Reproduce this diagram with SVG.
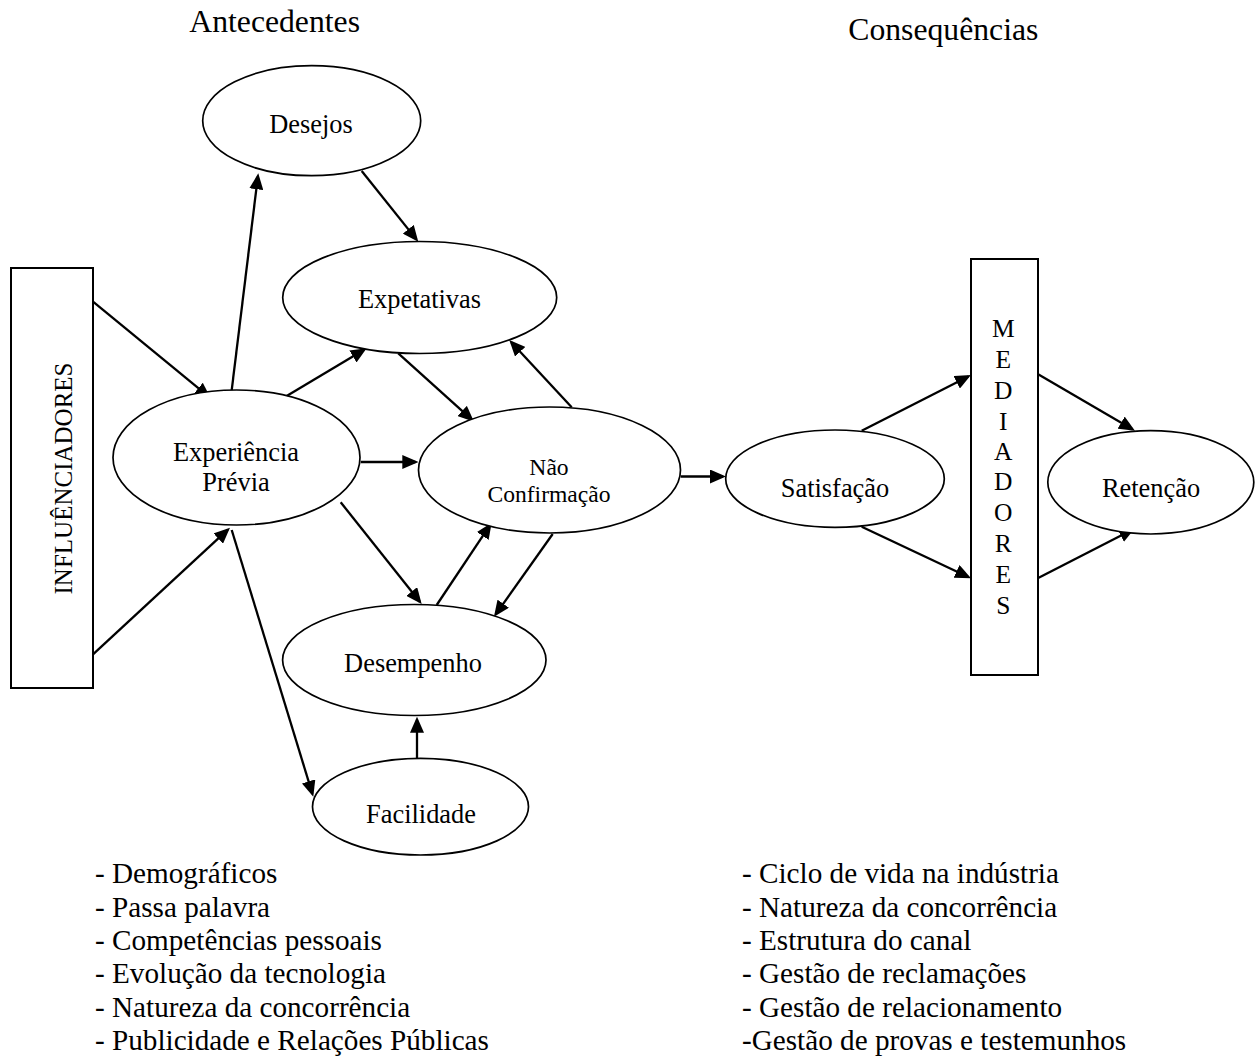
<svg xmlns="http://www.w3.org/2000/svg" width="1255" height="1058" viewBox="0 0 1255 1058">
  <style>
    .node { fill: #ffffff; stroke: #000000; stroke-width: 1.7; }
    .box { fill: #ffffff; stroke: #000000; stroke-width: 2; }
    .edge { stroke: #000000; stroke-width: 2.3; fill: none; marker-end: url(#arrow); }
    text { font-family: "Liberation Serif", "Times New Roman", serif; fill: #000000; }
    .lbl { font-size: 26.4px; text-anchor: middle; }
    .lbl-sm { font-size: 23.6px; text-anchor: middle; }
    .title { font-size: 31.7px; }
    .list { font-size: 29.2px; }
    .vert { font-size: 25.5px; text-anchor: middle; }
  </style>
  <defs>
    <marker id="arrow" markerUnits="userSpaceOnUse" markerWidth="16" markerHeight="14" refX="13" refY="7" orient="auto">
      <path d="M0,0 L16,7 L0,14 Z" fill="#000000"/>
    </marker>
  </defs>

  <rect width="1255" height="1058" fill="#ffffff"/>

  <!-- section headings -->
  <text class="title" x="189.3" y="32.3">Antecedentes</text>
  <text class="title" x="848.3" y="40">Consequências</text>

  <!-- connectors -->
  <g id="connectors">
    <line class="edge" x1="93" y1="301.7" x2="208.4" y2="396.4"/>
    <line class="edge" x1="93" y1="654.3" x2="227.8" y2="529.7"/>
    <line class="edge" x1="230.7" y1="398.3" x2="257.9" y2="176.3"/>
    <line class="edge" x1="361.7" y1="171" x2="416.4" y2="239.4"/>
    <line class="edge" x1="283.3" y1="398" x2="364.1" y2="349.8"/>
    <line class="edge" x1="398.3" y1="353.3" x2="471.8" y2="419.7"/>
    <line class="edge" x1="571.7" y1="407.3" x2="511.3" y2="342.2"/>
    <line class="edge" x1="360.7" y1="462" x2="415.3" y2="462"/>
    <line class="edge" x1="340.7" y1="502.3" x2="419.8" y2="601.7"/>
    <line class="edge" x1="436.7" y1="605" x2="490" y2="525.2"/>
    <line class="edge" x1="552.7" y1="534" x2="495.7" y2="614.3"/>
    <line class="edge" x1="417" y1="758.3" x2="417" y2="719.7"/>
    <line class="edge" x1="231.7" y1="530" x2="312.4" y2="793.8"/>
    <line class="edge" x1="680.7" y1="476.5" x2="723" y2="476.5"/>
    <line class="edge" x1="861.7" y1="430.7" x2="968.3" y2="376.4"/>
    <line class="edge" x1="861.7" y1="526.7" x2="968.3" y2="577"/>
    <line class="edge" x1="1037.7" y1="374" x2="1132.4" y2="429.2"/>
    <line class="edge" x1="1037.7" y1="578.3" x2="1132.3" y2="529.7"/>
  </g>

  <!-- nodes -->
  <g id="influenciadores">
    <rect class="box" x="11" y="268" width="82" height="420"/>
    <text class="vert" transform="translate(72 478.5) rotate(-90)" x="0" y="0" style="font-size:25px">INFLUÊNCIADORES</text>
  </g>

  <g id="desejos">
    <ellipse class="node" cx="311.7" cy="120.7" rx="109" ry="55"/>
    <text class="lbl" x="311" y="133.3">Desejos</text>
  </g>

  <g id="expetativas">
    <ellipse class="node" cx="419.7" cy="297.5" rx="137" ry="56"/>
    <text class="lbl" x="419.5" y="308">Expetativas</text>
  </g>

  <g id="experiencia-previa">
    <ellipse class="node" cx="236.5" cy="457.5" rx="123.5" ry="67.5"/>
    <text class="lbl" x="236" y="461">Experiência</text>
    <text class="lbl" x="236" y="490.7">Prévia</text>
  </g>

  <g id="nao-confirmacao">
    <ellipse class="node" cx="549.5" cy="470" rx="131" ry="63"/>
    <text class="lbl-sm" x="549" y="475">Não</text>
    <text class="lbl-sm" x="549" y="502">Confirmação</text>
  </g>

  <g id="desempenho">
    <ellipse class="node" cx="414.3" cy="660" rx="131.7" ry="55.5"/>
    <text class="lbl" x="413" y="671.7">Desempenho</text>
  </g>

  <g id="facilidade">
    <ellipse class="node" cx="420.5" cy="806.7" rx="108" ry="48.3"/>
    <text class="lbl" x="421" y="823.3">Facilidade</text>
  </g>

  <g id="satisfacao">
    <ellipse class="node" cx="835" cy="478.7" rx="109.3" ry="48.7"/>
    <text class="lbl" x="835" y="496.7">Satisfação</text>
  </g>

  <g id="mediadores">
    <rect class="box" x="971" y="259" width="67" height="416"/>
    <text class="vert" x="1003.3" y="337">M</text>
    <text class="vert" x="1003.3" y="368">E</text>
    <text class="vert" x="1003.3" y="399">D</text>
    <text class="vert" x="1003.3" y="430">I</text>
    <text class="vert" x="1003.3" y="460">A</text>
    <text class="vert" x="1003.3" y="490">D</text>
    <text class="vert" x="1003.3" y="521">O</text>
    <text class="vert" x="1003.3" y="551.7">R</text>
    <text class="vert" x="1003.3" y="582.7">E</text>
    <text class="vert" x="1003.3" y="614">S</text>
  </g>

  <g id="retencao">
    <ellipse class="node" cx="1150.8" cy="482.3" rx="103" ry="51.7"/>
    <text class="lbl" x="1151" y="497.3">Retenção</text>
  </g>

  <!-- influencing factors -->
  <g id="lista-antecedentes">
    <text class="list" x="95" y="883.3">- Demográficos</text>
    <text class="list" x="95" y="916.7">- Passa palavra</text>
    <text class="list" x="95" y="950">- Competências pessoais</text>
    <text class="list" x="95" y="983.3">- Evolução da tecnologia</text>
    <text class="list" x="95" y="1016.7">- Natureza da concorrência</text>
    <text class="list" x="95" y="1050">- Publicidade e Relações Públicas</text>
  </g>

  <!-- mediating factors -->
  <g id="lista-consequencias">
    <text class="list" x="742" y="883.3">- Ciclo de vida na indústria</text>
    <text class="list" x="742" y="916.7">- Natureza da concorrência</text>
    <text class="list" x="742" y="950">- Estrutura do canal</text>
    <text class="list" x="742" y="983.3">- Gestão de reclamações</text>
    <text class="list" x="742" y="1016.7">- Gestão de relacionamento</text>
    <text class="list" x="742" y="1050">-Gestão de provas e testemunhos</text>
  </g>
</svg>
